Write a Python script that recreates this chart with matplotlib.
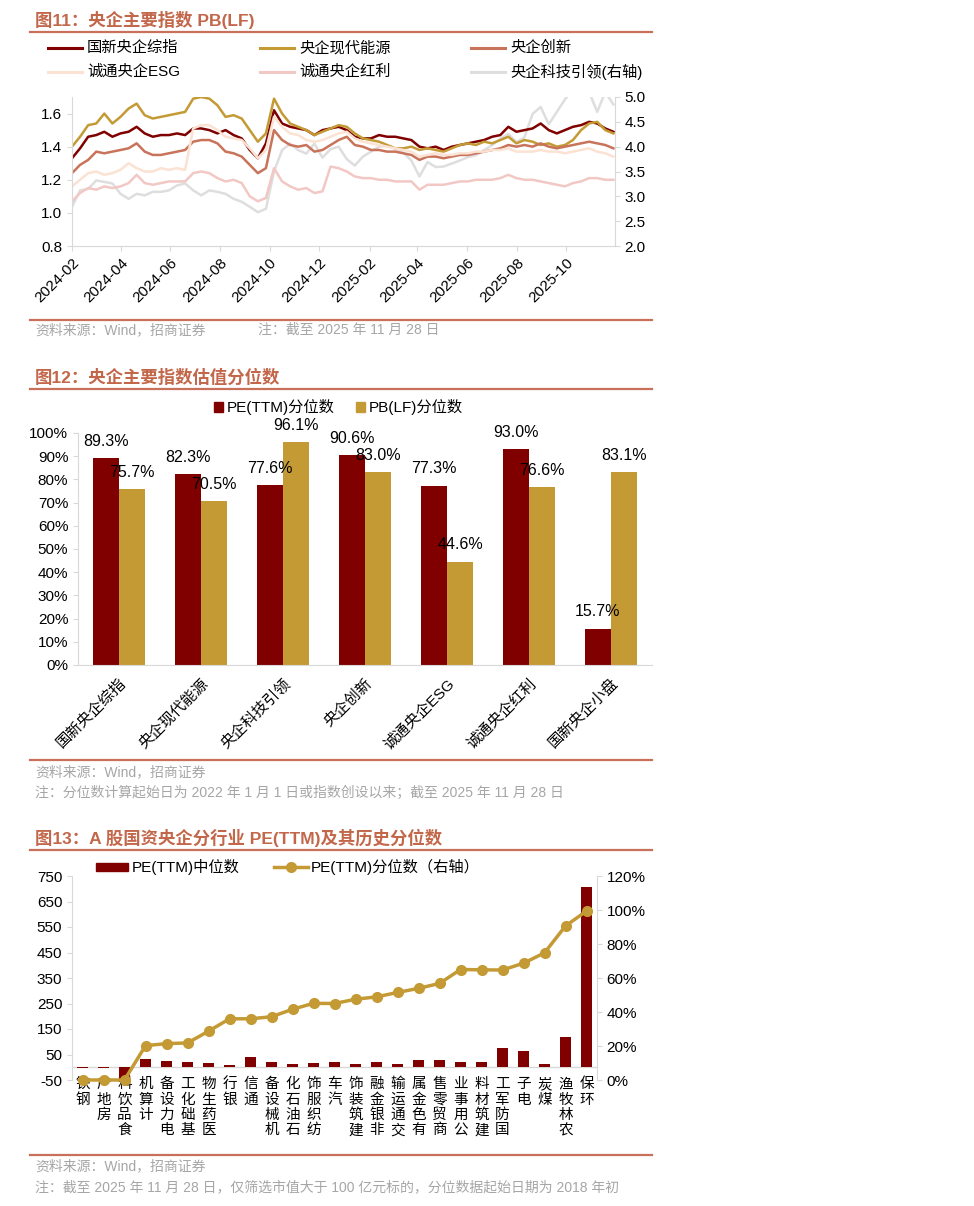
import numpy as np
import pandas as pd
import matplotlib
matplotlib.use('Agg')
import matplotlib.pyplot as plt
import matplotlib.dates as mdates
from matplotlib.lines import Line2D
from matplotlib.patches import Rectangle
from matplotlib.ticker import FuncFormatter, FormatStrFormatter

plt.rcParams['font.family'] = ['Liberation Sans', 'Noto Sans CJK SC']
plt.rcParams['axes.unicode_minus'] = False

# ---------------- data: 图11 (PB(LF), roughly every 10 days) ----------------
pb_guoxin = [1.33, 1.39, 1.46, 1.47, 1.49, 1.46, 1.48, 1.49, 1.52, 1.48,
             1.46, 1.47, 1.47, 1.48, 1.47, 1.51, 1.51, 1.50, 1.48, 1.50,
             1.47, 1.45, 1.38, 1.33, 1.42, 1.62, 1.54, 1.52, 1.51, 1.50,
             1.47, 1.50, 1.51, 1.52, 1.50, 1.46, 1.45, 1.45, 1.47, 1.46,
             1.46, 1.45, 1.44, 1.40, 1.39, 1.40, 1.38, 1.40, 1.41, 1.42,
             1.43, 1.44, 1.46, 1.47, 1.52, 1.49, 1.50, 1.51, 1.54, 1.50,
             1.48, 1.50, 1.52, 1.53, 1.55, 1.54, 1.51, 1.49]
pb_energy = [1.40, 1.46, 1.53, 1.54, 1.60, 1.54, 1.58, 1.63, 1.66, 1.59,
             1.57, 1.58, 1.59, 1.60, 1.61, 1.69, 1.70, 1.69, 1.65, 1.58,
             1.59, 1.57, 1.50, 1.43, 1.48, 1.69, 1.60, 1.54, 1.52, 1.50,
             1.47, 1.49, 1.51, 1.53, 1.52, 1.48, 1.45, 1.44, 1.43, 1.41,
             1.39, 1.39, 1.40, 1.38, 1.39, 1.38, 1.37, 1.39, 1.41, 1.42,
             1.41, 1.43, 1.42, 1.44, 1.46, 1.42, 1.44, 1.43, 1.41, 1.42,
             1.40, 1.41, 1.44, 1.50, 1.54, 1.55, 1.50, 1.48]
pb_innov = [1.24, 1.29, 1.32, 1.37, 1.36, 1.37, 1.38, 1.39, 1.42, 1.37,
            1.35, 1.35, 1.36, 1.37, 1.38, 1.43, 1.44, 1.44, 1.42, 1.37,
            1.36, 1.34, 1.29, 1.24, 1.27, 1.50, 1.44, 1.41, 1.40, 1.41,
            1.37, 1.38, 1.41, 1.44, 1.46, 1.41, 1.40, 1.38, 1.38, 1.37,
            1.37, 1.36, 1.35, 1.32, 1.34, 1.34, 1.33, 1.34, 1.35, 1.35,
            1.36, 1.37, 1.38, 1.39, 1.41, 1.40, 1.41, 1.40, 1.42, 1.40,
            1.39, 1.40, 1.41, 1.42, 1.43, 1.42, 1.41, 1.39]
pb_esg = [1.16, 1.20, 1.24, 1.25, 1.23, 1.24, 1.26, 1.30, 1.27, 1.25,
          1.25, 1.27, 1.26, 1.27, 1.26, 1.51, 1.53, 1.53, 1.50, 1.46,
          1.45, 1.44, 1.39, 1.33, 1.38, 1.58, 1.52, 1.48, 1.47, 1.44,
          1.43, 1.44, 1.46, 1.48, 1.49, 1.45, 1.43, 1.42, 1.41, 1.40,
          1.39, 1.38, 1.37, 1.34, 1.35, 1.36, 1.35, 1.35, 1.36, 1.36,
          1.37, 1.37, 1.38, 1.38, 1.39, 1.37, 1.37, 1.37, 1.38, 1.37,
          1.37, 1.36, 1.37, 1.38, 1.39, 1.37, 1.36, 1.34]
pb_dividend = [1.07, 1.12, 1.15, 1.14, 1.16, 1.15, 1.16, 1.18, 1.23, 1.18,
               1.17, 1.18, 1.19, 1.19, 1.19, 1.24, 1.25, 1.24, 1.21, 1.19,
               1.20, 1.18, 1.10, 1.07, 1.09, 1.27, 1.19, 1.16, 1.14, 1.15,
               1.12, 1.13, 1.28, 1.27, 1.25, 1.22, 1.21, 1.21, 1.20, 1.20,
               1.19, 1.19, 1.19, 1.14, 1.17, 1.17, 1.17, 1.18, 1.19, 1.19,
               1.20, 1.20, 1.20, 1.21, 1.23, 1.21, 1.20, 1.20, 1.19, 1.18,
               1.17, 1.16, 1.18, 1.19, 1.21, 1.21, 1.20, 1.20]
pb_tech = [2.79, 3.12, 3.15, 3.32, 3.29, 3.26, 3.05, 2.95, 3.05, 3.02,
           3.09, 3.09, 3.12, 3.22, 3.26, 3.12, 3.02, 3.12, 3.09, 3.05,
           2.95, 2.89, 2.79, 2.68, 2.75, 3.50, 3.93, 4.06, 3.93, 3.86,
           4.06, 3.78, 3.95, 4.00, 3.75, 3.62, 3.80, 3.90, 4.00, 4.02,
           3.96, 3.88, 3.72, 3.40, 3.69, 3.59, 3.60, 3.66, 3.72, 3.79,
           3.83, 3.93, 4.03, 4.16, 4.26, 4.09, 4.19, 4.66, 4.80, 4.45,
           4.70, 4.95, 5.15, 5.20, 5.10, 4.70, 5.10, 4.85]
series1_names = ['国新央企综指', '央企现代能源', '央企创新',
                 '诚通央企ESG', '诚通央企红利', '央企科技引领(右轴)']

# ---------------- data: 图12 ----------------
idx_names = ['国新央企综指', '央企现代能源', '央企科技引领', '央企创新',
             '诚通央企ESG', '诚通央企红利', '国新央企小盘']
pe_pct = [89.3, 82.3, 77.6, 90.6, 77.3, 93.0, 15.7]
pb_pct = [75.7, 70.5, 96.1, 83.0, 44.6, 76.6, 83.1]

# ---------------- data: 图13 ----------------
industries = ['钢铁', '房地产', '食品饮料', '计算机', '电力设备', '基础化工',
              '医药生物', '银行', '通信', '机械设备', '石油石化', '纺织服饰',
              '汽车', '建筑装饰', '非银金融', '交通运输', '有色金属', '商贸零售',
              '公用事业', '建筑材料', '国防军工', '电子', '煤炭', '农林牧渔', '环保']
pe_median = [-2, -2, -45, 33, 24, 20, 17, 8, 41, 21, 13, 15, 21, 13, 22,
             14, 30, 30, 21, 20, 74, 62, 11, 117, 705]
pe_hist_pct = [0, 0, 0, 20.2, 21.4, 21.8, 28.7, 36.0, 36.0, 37.2, 41.6, 45.1,
               45.0, 47.5, 48.9, 51.5, 53.9, 56.8, 65.0, 64.8, 64.7, 68.7,
               74.8, 90.6, 99.4]

# ---------------- style ----------------
W, H = 974, 1206
DARK = '#800000'
GOLD = '#C49A34'
TERRA = '#C8735A'
PEACH = '#FBE2D2'
PINK = '#F2C8C5'
GREY = '#DEDEDE'
TITLE_C = '#C3674B'
RULE_C = '#C8705A'
NOTE_C = '#A6A6A6'
SPINE_C = '#D9D9D9'


def box(l, t, r, b):
    return [l / W, 1 - b / H, (r - l) / W, (b - t) / H]


def ftext(x, y, s, **kw):
    fig.text(x / W, 1 - y / H, s, va='center', **kw)


def fline(x0, x1, y, **kw):
    fig.add_artist(Line2D([x0 / W, x1 / W], [1 - y / H, 1 - y / H],
                          transform=fig.transFigure, **kw))


def style_spines(ax, show):
    for k, sp in ax.spines.items():
        sp.set_visible(k in show)
        sp.set_color(SPINE_C)
    ax.tick_params(colors=SPINE_C, labelcolor='black', labelsize=11)


fig = plt.figure(figsize=(W / 100, H / 100), dpi=100)

# ======================= 图11 =======================
ftext(35, 20, '图11：央企主要指数 PB(LF)', fontsize=12.5, fontweight='bold', color=TITLE_C)
fline(30, 652, 32, color=RULE_C, lw=1.6)

colors1 = [DARK, GOLD, TERRA, PEACH, PINK, GREY]
leg_pos = [(48, 48), (260, 48), (471, 48), (48, 72), (260, 72), (471, 72)]
for (lx, ly), c, name in zip(leg_pos, colors1, series1_names):
    fline(lx, lx + 34, ly, color=c, lw=2.2)
    ftext(lx + 39, ly, name, fontsize=11)

dates = pd.date_range('2024-02-01', '2025-11-28', periods=len(pb_guoxin))
ax1 = fig.add_axes(box(72, 97, 615, 246))
ax1r = ax1.twinx()
ax1.set_zorder(ax1r.get_zorder() + 1)
ax1.patch.set_visible(False)

for vals, c in zip([pb_guoxin, pb_energy, pb_innov, pb_esg, pb_dividend], colors1[:5]):
    ax1.plot(dates, vals, color=c, lw=1.8)
ax1r.plot(dates, pb_tech, color=GREY, lw=1.8)

ax1.set_ylim(0.8, 1.7)
ax1.set_yticks([0.8, 1.0, 1.2, 1.4, 1.6])
ax1.yaxis.set_major_formatter(FormatStrFormatter('%.1f'))
ax1r.set_ylim(2.0, 5.0)
ax1r.set_yticks(np.arange(2.0, 5.01, 0.5))
ax1r.yaxis.set_major_formatter(FormatStrFormatter('%.1f'))
ax1.set_xlim(pd.Timestamp('2024-02-01'), pd.Timestamp('2025-11-30'))
ax1.xaxis.set_major_locator(mdates.MonthLocator(bymonth=[2, 4, 6, 8, 10, 12]))
ax1.xaxis.set_major_formatter(mdates.DateFormatter('%Y-%m'))
style_spines(ax1, ['left', 'bottom'])
style_spines(ax1r, ['right'])
ax1r.spines['left'].set_visible(False)
ax1r.spines['bottom'].set_visible(False)
for lab in ax1.get_xticklabels():
    lab.set_rotation(45)
    lab.set_ha('right')
    lab.set_rotation_mode('anchor')

fline(30, 652, 320, color=RULE_C, lw=1.6)
ftext(35, 330, '资料来源：Wind，招商证券', fontsize=10, color=NOTE_C)
ftext(258, 330, '注：截至 2025 年 11 月 28 日', fontsize=10, color=NOTE_C)

# ======================= 图12 =======================
ftext(35, 377, '图12：央企主要指数估值分位数', fontsize=12.5, fontweight='bold', color=TITLE_C)
fline(30, 652, 389, color=RULE_C, lw=1.6)

fig.add_artist(Rectangle((214 / W, 1 - 412 / H), 9 / W, 10 / H,
                         transform=fig.transFigure, color=DARK))
ftext(227, 407, 'PE(TTM)分位数', fontsize=11)
fig.add_artist(Rectangle((356 / W, 1 - 412 / H), 9 / W, 10 / H,
                         transform=fig.transFigure, color=GOLD))
ftext(369, 407, 'PB(LF)分位数', fontsize=11)

ax2 = fig.add_axes(box(78, 433, 652, 665))
x2 = np.arange(len(idx_names))
bw = 0.32
b1 = ax2.bar(x2 - bw / 2, pe_pct, bw, color=DARK)
b2 = ax2.bar(x2 + bw / 2, pb_pct, bw, color=GOLD)
for bars, vals in [(b1, pe_pct), (b2, pb_pct)]:
    for r, v in zip(bars, vals):
        ax2.annotate(f'{v:.1f}%', (r.get_x() + r.get_width() / 2, v),
                     xytext=(0, 12), textcoords='offset points',
                     ha='center', va='center', fontsize=11.5)
ax2.set_xlim(-0.5, len(idx_names) - 0.5)
ax2.set_ylim(0, 100)
ax2.set_yticks(np.arange(0, 101, 10))
ax2.yaxis.set_major_formatter(FuncFormatter(lambda v, p: f'{v:.0f}%'))
style_spines(ax2, ['left', 'bottom'])
ax2.set_xticks(x2)
ax2.set_xticklabels(idx_names, rotation=45, ha='right', rotation_mode='anchor', fontsize=11)
ax2.tick_params(axis='x', length=0, pad=8)

fline(30, 652, 760, color=RULE_C, lw=1.6)
ftext(35, 772, '资料来源：Wind，招商证券', fontsize=10, color=NOTE_C)
ftext(35, 793, '注：分位数计算起始日为 2022 年 1 月 1 日或指数创设以来；截至 2025 年 11 月 28 日',
      fontsize=10, color=NOTE_C)

# ======================= 图13 =======================
ftext(35, 838, '图13：A 股国资央企分行业 PE(TTM)及其历史分位数', fontsize=12.5,
      fontweight='bold', color=TITLE_C)
fline(30, 652, 850, color=RULE_C, lw=1.6)

fig.add_artist(Rectangle((96 / W, 1 - 871 / H), 32 / W, 8 / H,
                         transform=fig.transFigure, color=DARK))
ftext(132, 867, 'PE(TTM)中位数', fontsize=11)
fig.add_artist(Line2D([274 / W, 308 / W], [1 - 867 / H] * 2, transform=fig.transFigure,
                      color=GOLD, lw=2.5))
fig.add_artist(Line2D([291 / W], [1 - 867 / H], transform=fig.transFigure,
                      color=GOLD, marker='o', ms=7))
ftext(311, 867, 'PE(TTM)分位数（右轴）', fontsize=11)

ax3 = fig.add_axes(box(72, 876, 597, 1080))
ax3r = ax3.twinx()
x3 = np.arange(len(industries))
ax3.axhline(0, color=SPINE_C, lw=1, zorder=1)
ax3.bar(x3, pe_median, 0.48, color=DARK, zorder=2)
ax3r.plot(x3, [v / 100 for v in pe_hist_pct], color=GOLD, lw=2.5,
          marker='o', ms=7, clip_on=False)
ax3.set_xlim(-0.5, len(industries) - 0.5)
ax3.set_ylim(-50, 750)
ax3.set_yticks(np.arange(-50, 751, 100))
ax3r.set_ylim(0, 1.2)
ax3r.set_yticks(np.arange(0, 1.21, 0.2))
ax3r.yaxis.set_major_formatter(FuncFormatter(lambda v, p: f'{v * 100:.0f}%'))
style_spines(ax3, ['left'])
style_spines(ax3r, ['right'])
ax3.set_xticks(x3)
ax3.set_xticklabels(['\n'.join(reversed(s)) for s in industries],
                    fontsize=10.5, linespacing=1.12)
ax3.tick_params(axis='x', length=0, pad=-2)

fline(30, 652, 1155, color=RULE_C, lw=1.6)
ftext(35, 1166, '资料来源：Wind，招商证券', fontsize=10, color=NOTE_C)
ftext(35, 1187, '注：截至 2025 年 11 月 28 日，仅筛选市值大于 100 亿元标的，分位数据起始日期为 2018 年初',
      fontsize=10, color=NOTE_C)

fig.savefig('out.png', dpi=100)
